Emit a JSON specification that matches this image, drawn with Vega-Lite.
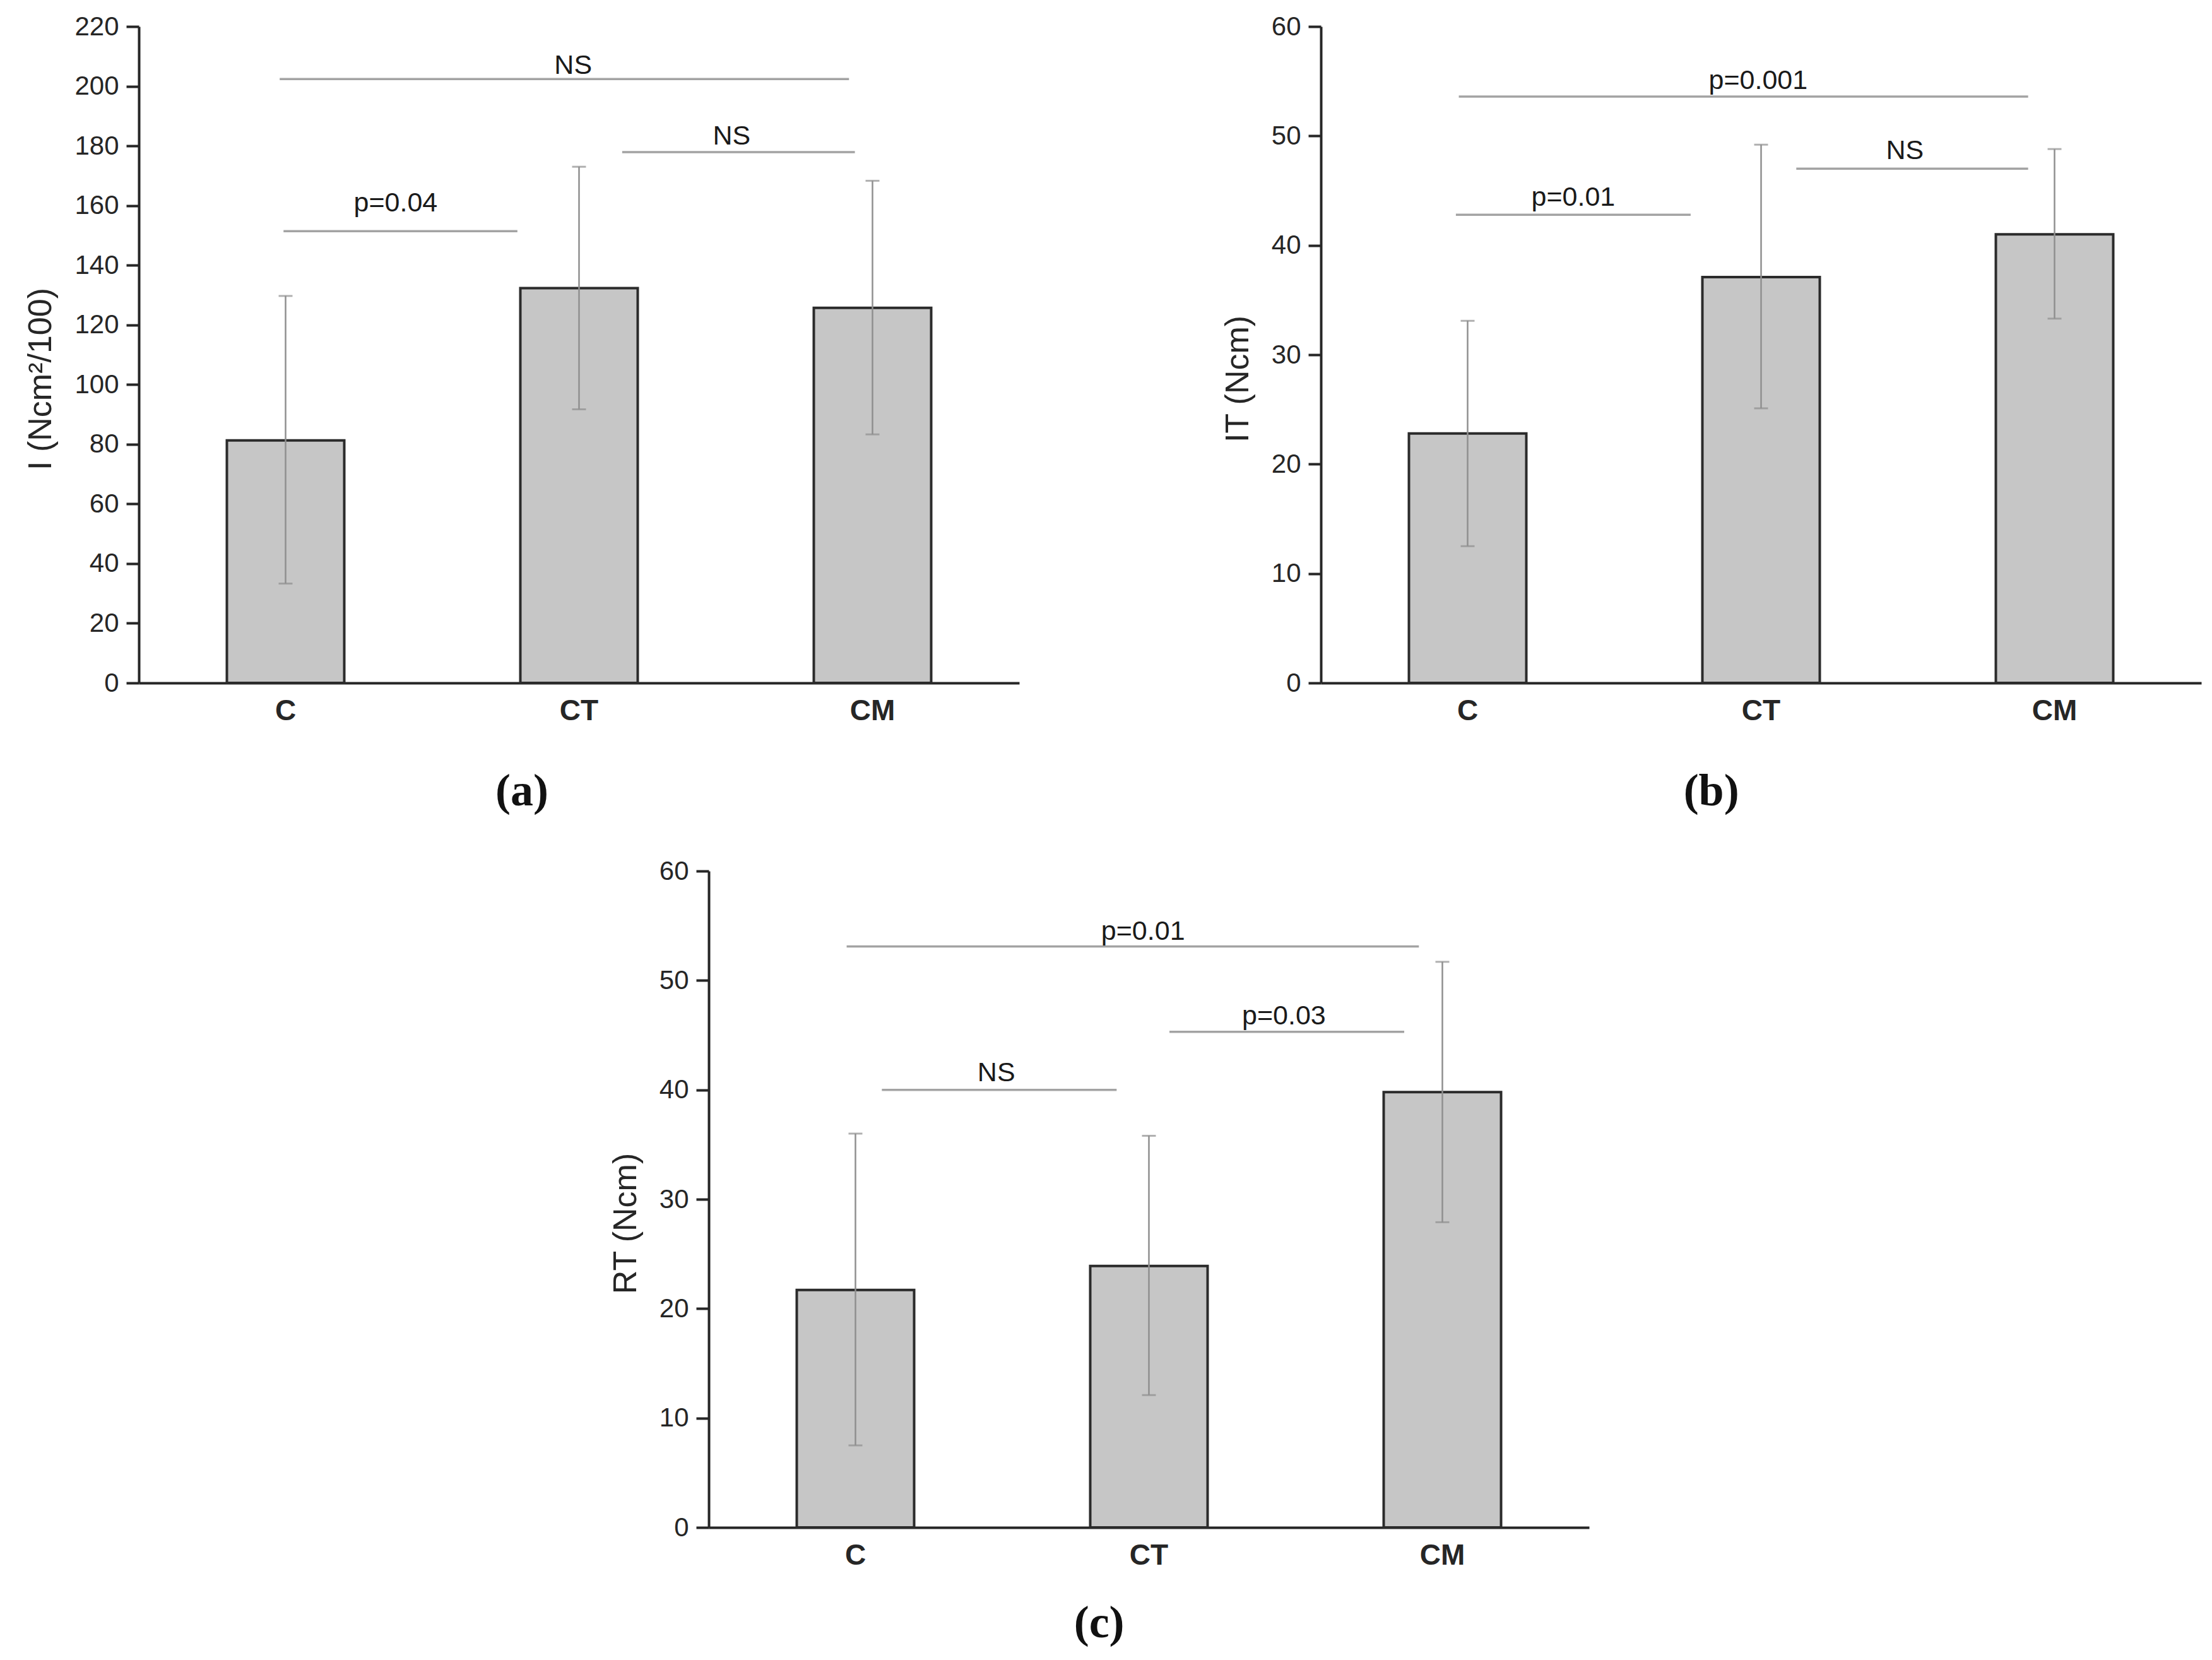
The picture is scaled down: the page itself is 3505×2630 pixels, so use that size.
{
  "$schema": "https://vega.github.io/schema/vega-lite/v6.json",
  "background": "white",
  "padding": {"left": 38, "top": 21, "right": 18, "bottom": 20},
  "datasets": {
    "barsA": [
      {"g": "C", "mean": 81.3, "lo": 33.3, "hi": 129.7},
      {"g": "CT", "mean": 132.3, "lo": 91.7, "hi": 173.0},
      {"g": "CM", "mean": 125.7, "lo": 83.3, "hi": 168.3}
    ],
    "sigA": [
      {"x1": -0.02, "x2": 1.92, "y": 202.4, "tx": 0.98, "ty": 204.2, "label": "NS"},
      {"x1": 1.147, "x2": 1.94, "y": 177.9, "tx": 1.52, "ty": 180.5, "label": "NS"},
      {"x1": -0.007, "x2": 0.79, "y": 151.4, "tx": 0.375, "ty": 158.1, "label": "p=0.04"}
    ],
    "barsB": [
      {"g": "C", "mean": 22.8, "lo": 12.5, "hi": 33.1},
      {"g": "CT", "mean": 37.1, "lo": 25.1, "hi": 49.2},
      {"g": "CM", "mean": 41.0, "lo": 33.3, "hi": 48.8}
    ],
    "sigB": [
      {"x1": -0.03, "x2": 1.91, "y": 53.6, "tx": 0.99, "ty": 54.3, "label": "p=0.001"},
      {"x1": 1.12, "x2": 1.91, "y": 47.0, "tx": 1.49, "ty": 47.9, "label": "NS"},
      {"x1": -0.04, "x2": 0.76, "y": 42.8, "tx": 0.36, "ty": 43.6, "label": "p=0.01"}
    ],
    "barsC": [
      {"g": "C", "mean": 21.7, "lo": 7.5, "hi": 36.0},
      {"g": "CT", "mean": 23.9, "lo": 12.1, "hi": 35.8},
      {"g": "CM", "mean": 39.8, "lo": 27.9, "hi": 51.7}
    ],
    "sigC": [
      {"x1": -0.03, "x2": 1.92, "y": 53.1, "tx": 0.98, "ty": 53.7, "label": "p=0.01"},
      {"x1": 1.07, "x2": 1.87, "y": 45.3, "tx": 1.46, "ty": 46.0, "label": "p=0.03"},
      {"x1": 0.09, "x2": 0.89, "y": 40.0, "tx": 0.48, "ty": 40.8, "label": "NS"}
    ]
  },
  "vconcat": [
    {
      "hconcat": [
        {
          "width": 1395,
          "height": 1040,
          "title": {"text": "(a)", "orient": "bottom", "offset": 70},
          "layer": [
            {
              "data": {"name": "barsA"},
              "encoding": {
                "x": {"field": "g", "type": "nominal", "sort": ["C", "CT", "CM"], "title": null,
                      "scale": {"paddingInner": 0.6, "paddingOuter": 0.3}}
              },
              "layer": [
                {
                  "mark": {"type": "bar", "fill": "#c6c6c6", "stroke": "#2b2b2b", "strokeWidth": 4},
                  "encoding": {
                    "y": {"field": "mean", "type": "quantitative", "title": "I (Ncm²/100)",
                          "scale": {"domain": [0, 220], "nice": false},
                          "axis": {"values": [0, 20, 40, 60, 80, 100, 120, 140, 160, 180, 200, 220]}}
                  }
                },
                {
                  "mark": {"type": "rule", "color": "#8f8f8f", "strokeWidth": 2.5},
                  "encoding": {
                    "y": {"field": "lo", "type": "quantitative", "title": "I (Ncm²/100)", "scale": {"domain": [0, 220], "nice": false}},
                    "y2": {"field": "hi"}
                  }
                },
                {
                  "mark": {"type": "tick", "color": "#8f8f8f", "size": 22, "thickness": 3},
                  "encoding": {"y": {"field": "lo", "type": "quantitative", "title": "I (Ncm²/100)", "scale": {"domain": [0, 220], "nice": false}}}
                },
                {
                  "mark": {"type": "tick", "color": "#8f8f8f", "size": 22, "thickness": 3},
                  "encoding": {"y": {"field": "hi", "type": "quantitative", "title": "I (Ncm²/100)", "scale": {"domain": [0, 220], "nice": false}}}
                }
              ]
            },
            {
              "data": {"name": "sigA"},
              "layer": [
                {
                  "mark": {"type": "rule", "color": "#a3a3a3", "strokeWidth": 3.5},
                  "encoding": {
                    "x": {"field": "x1", "type": "quantitative", "scale": {"domain": [-0.5, 2.5], "nice": false, "zero": false}, "axis": null},
                    "x2": {"field": "x2"},
                    "y": {"field": "y", "type": "quantitative", "title": "I (Ncm²/100)", "scale": {"domain": [0, 220], "nice": false}}
                  }
                },
                {
                  "mark": {"type": "text", "fontSize": 43, "color": "#1a1a1a", "align": "center", "baseline": "alphabetic"},
                  "encoding": {
                    "x": {"field": "tx", "type": "quantitative", "scale": {"domain": [-0.5, 2.5], "nice": false, "zero": false}, "axis": null},
                    "y": {"field": "ty", "type": "quantitative", "title": "I (Ncm²/100)", "scale": {"domain": [0, 220], "nice": false}},
                    "text": {"field": "label"}
                  }
                }
              ]
            }
          ],
          "resolve": {"scale": {"x": "independent"}}
        },
        {
          "width": 1395,
          "height": 1040,
          "title": {"text": "(b)", "orient": "bottom", "offset": 70},
          "layer": [
            {
              "data": {"name": "barsB"},
              "encoding": {
                "x": {"field": "g", "type": "nominal", "sort": ["C", "CT", "CM"], "title": null,
                      "scale": {"paddingInner": 0.6, "paddingOuter": 0.3}}
              },
              "layer": [
                {
                  "mark": {"type": "bar", "fill": "#c6c6c6", "stroke": "#2b2b2b", "strokeWidth": 4},
                  "encoding": {
                    "y": {"field": "mean", "type": "quantitative", "title": "IT (Ncm)",
                          "scale": {"domain": [0, 60], "nice": false},
                          "axis": {"values": [0, 10, 20, 30, 40, 50, 60]}}
                  }
                },
                {
                  "mark": {"type": "rule", "color": "#8f8f8f", "strokeWidth": 2.5},
                  "encoding": {
                    "y": {"field": "lo", "type": "quantitative", "title": "IT (Ncm)", "scale": {"domain": [0, 60], "nice": false}},
                    "y2": {"field": "hi"}
                  }
                },
                {
                  "mark": {"type": "tick", "color": "#8f8f8f", "size": 22, "thickness": 3},
                  "encoding": {"y": {"field": "lo", "type": "quantitative", "title": "IT (Ncm)", "scale": {"domain": [0, 60], "nice": false}}}
                },
                {
                  "mark": {"type": "tick", "color": "#8f8f8f", "size": 22, "thickness": 3},
                  "encoding": {"y": {"field": "hi", "type": "quantitative", "title": "IT (Ncm)", "scale": {"domain": [0, 60], "nice": false}}}
                }
              ]
            },
            {
              "data": {"name": "sigB"},
              "layer": [
                {
                  "mark": {"type": "rule", "color": "#a3a3a3", "strokeWidth": 3.5},
                  "encoding": {
                    "x": {"field": "x1", "type": "quantitative", "scale": {"domain": [-0.5, 2.5], "nice": false, "zero": false}, "axis": null},
                    "x2": {"field": "x2"},
                    "y": {"field": "y", "type": "quantitative", "title": "IT (Ncm)", "scale": {"domain": [0, 60], "nice": false}}
                  }
                },
                {
                  "mark": {"type": "text", "fontSize": 43, "color": "#1a1a1a", "align": "center", "baseline": "alphabetic"},
                  "encoding": {
                    "x": {"field": "tx", "type": "quantitative", "scale": {"domain": [-0.5, 2.5], "nice": false, "zero": false}, "axis": null},
                    "y": {"field": "ty", "type": "quantitative", "title": "IT (Ncm)", "scale": {"domain": [0, 60], "nice": false}},
                    "text": {"field": "label"}
                  }
                }
              ]
            }
          ],
          "resolve": {"scale": {"x": "independent"}}
        }
      ],
      "spacing": 320
    },
    {
      "hconcat": [
        {
          "width": 745,
          "height": 1040,
          "data": {"values": []},
          "mark": "point",
          "encoding": {}
        },
        {
          "width": 1395,
          "height": 1040,
          "title": {"text": "(c)", "orient": "bottom", "offset": 50},
          "layer": [
            {
              "data": {"name": "barsC"},
              "encoding": {
                "x": {"field": "g", "type": "nominal", "sort": ["C", "CT", "CM"], "title": null,
                      "scale": {"paddingInner": 0.6, "paddingOuter": 0.3}}
              },
              "layer": [
                {
                  "mark": {"type": "bar", "fill": "#c6c6c6", "stroke": "#2b2b2b", "strokeWidth": 4},
                  "encoding": {
                    "y": {"field": "mean", "type": "quantitative", "title": "RT (Ncm)",
                          "scale": {"domain": [0, 60], "nice": false},
                          "axis": {"values": [0, 10, 20, 30, 40, 50, 60]}}
                  }
                },
                {
                  "mark": {"type": "rule", "color": "#8f8f8f", "strokeWidth": 2.5},
                  "encoding": {
                    "y": {"field": "lo", "type": "quantitative", "title": "RT (Ncm)", "scale": {"domain": [0, 60], "nice": false}},
                    "y2": {"field": "hi"}
                  }
                },
                {
                  "mark": {"type": "tick", "color": "#8f8f8f", "size": 22, "thickness": 3},
                  "encoding": {"y": {"field": "lo", "type": "quantitative", "title": "RT (Ncm)", "scale": {"domain": [0, 60], "nice": false}}}
                },
                {
                  "mark": {"type": "tick", "color": "#8f8f8f", "size": 22, "thickness": 3},
                  "encoding": {"y": {"field": "hi", "type": "quantitative", "title": "RT (Ncm)", "scale": {"domain": [0, 60], "nice": false}}}
                }
              ]
            },
            {
              "data": {"name": "sigC"},
              "layer": [
                {
                  "mark": {"type": "rule", "color": "#a3a3a3", "strokeWidth": 3.5},
                  "encoding": {
                    "x": {"field": "x1", "type": "quantitative", "scale": {"domain": [-0.5, 2.5], "nice": false, "zero": false}, "axis": null},
                    "x2": {"field": "x2"},
                    "y": {"field": "y", "type": "quantitative", "title": "RT (Ncm)", "scale": {"domain": [0, 60], "nice": false}}
                  }
                },
                {
                  "mark": {"type": "text", "fontSize": 43, "color": "#1a1a1a", "align": "center", "baseline": "alphabetic"},
                  "encoding": {
                    "x": {"field": "tx", "type": "quantitative", "scale": {"domain": [-0.5, 2.5], "nice": false, "zero": false}, "axis": null},
                    "y": {"field": "ty", "type": "quantitative", "title": "RT (Ncm)", "scale": {"domain": [0, 60], "nice": false}},
                    "text": {"field": "label"}
                  }
                }
              ]
            }
          ],
          "resolve": {"scale": {"x": "independent"}}
        }
      ],
      "spacing": 0
    }
  ],
  "spacing": 69,
  "config": {
    "view": {"stroke": null},
    "font": "Liberation Sans",
    "axis": {
      "grid": false,
      "domainColor": "#262626",
      "domainWidth": 4,
      "tickColor": "#262626",
      "tickWidth": 4,
      "labelFont": "Liberation Sans",
      "labelFontSize": 42,
      "labelColor": "#262626",
      "titleFont": "Liberation Sans",
      "titleFontSize": 52,
      "titleFontWeight": "normal",
      "titleColor": "#262626"
    },
    "axisY": {"tickSize": 20, "labelPadding": 12, "titlePadding": 26, "titleY": 558},
    "axisX": {"ticks": false, "tickSize": 0, "labelAngle": 0, "labelFontWeight": "bold", "labelFontSize": 46, "labelPadding": 22},
    "title": {"font": "Liberation Serif", "fontWeight": "bold", "fontSize": 72, "color": "#111111", "frame": "bounds", "anchor": "middle"}
  }
}
